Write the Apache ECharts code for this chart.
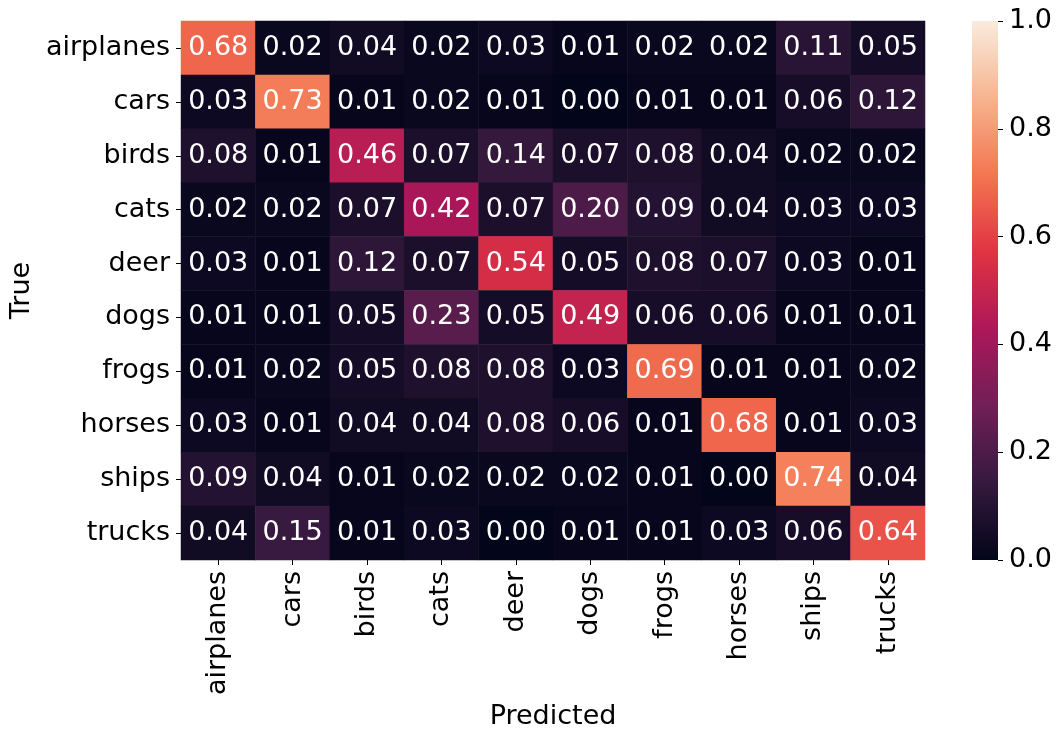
<!DOCTYPE html>
<html>
<head>
<meta charset="utf-8">
<script src="https://cdn.jsdelivr.net/npm/echarts@6/dist/echarts.min.js"></script>
<style>
  html, body { margin: 0; padding: 0; background: #fff; }
  #chart { width: 1062px; height: 741px; }
</style>
</head>
<body>
<div id="chart"></div>
<script>
const classes = ["airplanes", "cars", "birds", "cats", "deer", "dogs", "frogs", "horses", "ships", "trucks"];

// rows = true class, columns = predicted class
const matrix = [
    [0.68, 0.02, 0.04, 0.02, 0.03, 0.01, 0.02, 0.02, 0.11, 0.05],
    [0.03, 0.73, 0.01, 0.02, 0.01, 0.00, 0.01, 0.01, 0.06, 0.12],
    [0.08, 0.01, 0.46, 0.07, 0.14, 0.07, 0.08, 0.04, 0.02, 0.02],
    [0.02, 0.02, 0.07, 0.42, 0.07, 0.20, 0.09, 0.04, 0.03, 0.03],
    [0.03, 0.01, 0.12, 0.07, 0.54, 0.05, 0.08, 0.07, 0.03, 0.01],
    [0.01, 0.01, 0.05, 0.23, 0.05, 0.49, 0.06, 0.06, 0.01, 0.01],
    [0.01, 0.02, 0.05, 0.08, 0.08, 0.03, 0.69, 0.01, 0.01, 0.02],
    [0.03, 0.01, 0.04, 0.04, 0.08, 0.06, 0.01, 0.68, 0.01, 0.03],
    [0.09, 0.04, 0.01, 0.02, 0.02, 0.02, 0.01, 0.00, 0.74, 0.04],
    [0.04, 0.15, 0.01, 0.03, 0.00, 0.01, 0.01, 0.03, 0.06, 0.64]
];

const colorbarTicks = [0, 0.2, 0.4, 0.6, 0.8, 1.0];

// seaborn "rocket", evenly spaced stops
const rocket = ["#03051a", "#35193e", "#701f57", "#ad1759", "#e13342", "#f37651", "#f6b48f", "#faebdd"];

const font = "DejaVu Sans";
const fs = 27;

const cells = [];
matrix.forEach((row, r) => {
    row.forEach((v, c) => cells.push([c, r, v]));
});

const chart = echarts.init(document.getElementById("chart"));

chart.setOption({
    animation: false,
    textStyle: { fontFamily: font },
    grid: [
        { left: 181, top: 21, width: 744, height: 539 },
        { left: 972, top: 21, width: 26, height: 539 }
    ],
    xAxis: [
        {
            type: "category",
            gridIndex: 0,
            data: classes,
            position: "bottom",
            name: "Predicted",
            nameLocation: "middle",
            nameGap: 142,
            nameTextStyle: { fontSize: fs, color: "#000", fontFamily: font },
            axisLine: { show: false },
            axisTick: { show: true, alignWithLabel: true, length: 5, lineStyle: { color: "#000" } },
            axisLabel: { rotate: 90, fontSize: fs, color: "#000", margin: 11, fontFamily: font },
            splitLine: { show: false }
        },
        {
            type: "category",
            gridIndex: 1,
            data: ["cb"],
            show: false
        }
    ],
    yAxis: [
        {
            type: "category",
            gridIndex: 0,
            data: classes,
            inverse: true,
            name: "True",
            nameLocation: "middle",
            nameGap: 145,
            nameRotate: 90,
            nameTextStyle: { fontSize: fs, color: "#000", fontFamily: font },
            axisLine: { show: false },
            axisTick: { show: true, alignWithLabel: true, length: 5, lineStyle: { color: "#000" } },
            axisLabel: { fontSize: fs, color: "#000", margin: 11, fontFamily: font },
            splitLine: { show: false }
        },
        {
            type: "value",
            gridIndex: 1,
            min: colorbarTicks[0],
            max: colorbarTicks[colorbarTicks.length - 1],
            interval: 0.2,
            position: "right",
            axisLine: { show: false },
            axisTick: { show: true, length: 5, lineStyle: { color: "#000" } },
            axisLabel: {
                fontSize: fs, color: "#000", margin: 11, fontFamily: font,
                formatter: (v) => v.toFixed(1)
            },
            splitLine: { show: false }
        }
    ],
    visualMap: {
        show: false,
        min: 0,
        max: 1,
        seriesIndex: 0,
        inRange: { color: rocket }
    },
    series: [
        {
            type: "heatmap",
            xAxisIndex: 0,
            yAxisIndex: 0,
            data: cells,
            label: {
                show: true,
                color: "#fff",
                fontSize: fs,
                fontFamily: font,
                formatter: (p) => p.value[2].toFixed(2)
            },
            itemStyle: { borderWidth: 0 }
        },
        {
            type: "bar",
            xAxisIndex: 1,
            yAxisIndex: 1,
            data: [colorbarTicks[colorbarTicks.length - 1]],
            barWidth: "100%",
            itemStyle: {
                color: new echarts.graphic.LinearGradient(0, 1, 0, 0,
                    rocket.map((c, i) => ({ offset: i / (rocket.length - 1), color: c })))
            },
            silent: true
        }
    ]
});
</script>
</body>
</html>
